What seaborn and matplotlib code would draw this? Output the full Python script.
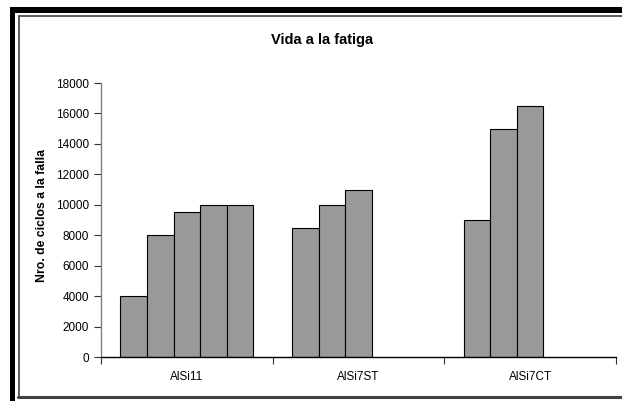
import numpy as np
import pandas as pd
import matplotlib
matplotlib.use("Agg")
import matplotlib.pyplot as plt
from matplotlib.patches import Rectangle
from matplotlib.lines import Line2D
import seaborn as sns

categories = ["AlSi11", "AlSi7ST", "AlSi7CT"]
series = ["S1", "S2", "S3", "S4", "S5"]
alsi11 = [4000, 8000, 9500, 10000, 10000]
alsi7st = [8500, 10000, 11000, None, None]
alsi7ct = [9000, 15000, 16500, None, None]
yticks = [0, 2000, 4000, 6000, 8000, 10000, 12000, 14000, 16000, 18000]

rows = []
for cat, vals in zip(categories, [alsi11, alsi7st, alsi7ct]):
    for s, v in zip(series, vals):
        if v is not None:
            rows.append({"cat": cat, "series": s, "val": v})
df = pd.DataFrame(rows)

sns.set_style("white")
plt.rcParams["font.family"] = ["Liberation Sans", "DejaVu Sans"]
plt.rcParams["text.color"] = "black"
plt.rcParams["xtick.color"] = "black"
plt.rcParams["ytick.color"] = "black"
plt.rcParams["axes.labelcolor"] = "black"

W, H = 622, 401
fig = plt.figure(figsize=(W / 100, H / 100), dpi=100)
fig.patch.set_facecolor("white")

def fx(x):
    return x / W

def fy(y):
    return 1 - y / H

ax = fig.add_axes([fx(101), fy(357), fx(616) - fx(101), fy(83) - fy(357)])
sns.barplot(data=df, x="cat", y="val", hue="series", order=categories,
            hue_order=series, palette=["#999999"] * 5, edgecolor="black",
            linewidth=0.8, width=0.775, legend=False, dodge=True, ax=ax,
            saturation=1)

ax.set_xlim(-0.5, 2.5)
ax.set_ylim(0, 18000)
ax.set_yticks(yticks)
ax.set_yticklabels([str(t) for t in yticks])
ax.set_xticks(range(len(categories)))
ax.set_xticklabels(categories)
ax.set_xticks([-0.5, 0.5, 1.5, 2.5], minor=True)
ax.tick_params(axis="x", which="major", length=0, pad=10, labelsize=8.5,
               labelcolor="black", bottom=False)
ax.tick_params(axis="x", which="minor", length=5, width=0.8, direction="out",
               color="#333333", bottom=True)
ax.tick_params(axis="y", length=5, width=0.8, direction="out", pad=3.5,
               labelsize=8.5, color="#333333", left=True, labelcolor="black")
ax.set_xlabel("")
ax.set_ylabel("")
for side in ["top", "right"]:
    ax.spines[side].set_visible(False)
ax.spines["left"].set_color("#808080")
ax.spines["left"].set_linewidth(1.0)
ax.spines["bottom"].set_color("black")
ax.spines["bottom"].set_linewidth(1.0)
ax.set_facecolor("white")

fig.text(fx(322), fy(40), "Vida a la fatiga", ha="center", va="center",
         fontsize=10.5, fontweight="bold", color="black")
fig.text(fx(42), fy(216), "Nro. de ciclos a la falla", ha="center", va="center",
         rotation=90, fontsize=8.8, fontweight="bold", color="black")

# Frame decorations
fig.add_artist(Rectangle((fx(10), 0), fx(15) - fx(10), fy(7), transform=fig.transFigure,
                         facecolor="black", edgecolor="none"))
fig.add_artist(Rectangle((fx(10), fy(13)), 1 - fx(10), fy(7) - fy(13), transform=fig.transFigure,
                         facecolor="black", edgecolor="none"))
fig.add_artist(Line2D([fx(18.5), fx(18.5)], [fy(397), fy(15.5)], transform=fig.transFigure,
                      color="#404040", linewidth=1.2))
fig.add_artist(Line2D([fx(18.5), 1], [fy(15.5), fy(15.5)], transform=fig.transFigure,
                      color="#404040", linewidth=1.2))
fig.add_artist(Line2D([fx(18), 1], [fy(396.5), fy(396.5)], transform=fig.transFigure,
                      color="#404040", linewidth=2.2))

fig.savefig("out.png", dpi=100, facecolor="white")
